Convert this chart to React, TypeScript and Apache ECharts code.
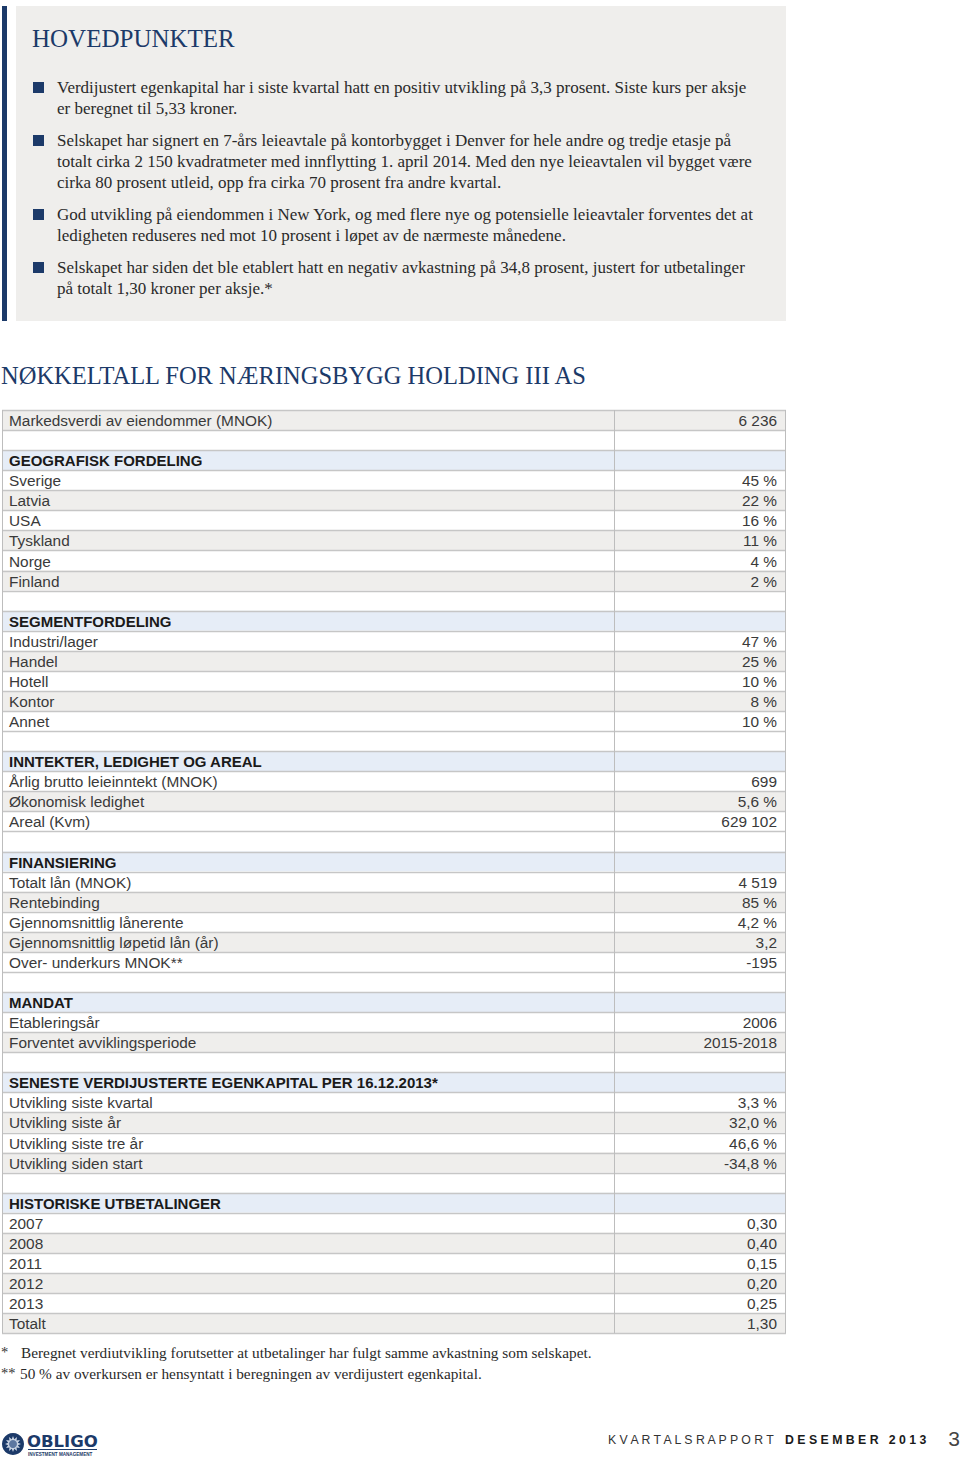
import React, { useEffect, useRef } from "react";
import * as echarts from "echarts";

const pageTitle = "HOVEDPUNKTER";
const highlights: string[][] = [
  [
    "Verdijustert egenkapital har i siste kvartal hatt en positiv utvikling på 3,3 prosent. Siste kurs per aksje",
    "er beregnet til 5,33 kroner.",
  ],
  [
    "Selskapet har signert en 7-års leieavtale på kontorbygget i Denver for hele andre og tredje etasje på",
    "totalt cirka 2 150 kvadratmeter med innflytting 1. april 2014. Med den nye leieavtalen vil bygget være",
    "cirka 80 prosent utleid, opp fra cirka 70 prosent fra andre kvartal.",
  ],
  [
    "God utvikling på eiendommen i New York, og med flere nye og potensielle leieavtaler forventes det at",
    "ledigheten reduseres ned mot 10 prosent i løpet av de nærmeste månedene.",
  ],
  [
    "Selskapet har siden det ble etablert hatt en negativ avkastning på 34,8 prosent, justert for utbetalinger",
    "på totalt 1,30 kroner per aksje.*",
  ],
];

const tableTitle = "NØKKELTALL FOR NÆRINGSBYGG HOLDING III AS";
const marketLabel = "Markedsverdi av eiendommer (MNOK)";
const marketValue = "6 236";

const sectionTitles = [
  "GEOGRAFISK FORDELING",
  "SEGMENTFORDELING",
  "INNTEKTER, LEDIGHET OG AREAL",
  "FINANSIERING",
  "MANDAT",
  "SENESTE VERDIJUSTERTE EGENKAPITAL PER 16.12.2013*",
  "HISTORISKE UTBETALINGER",
];
const geoLabels = ["Sverige", "Latvia", "USA", "Tyskland", "Norge", "Finland"];
const geoValues = ["45 %", "22 %", "16 %", "11 %", "4 %", "2 %"];
const segLabels = ["Industri/lager", "Handel", "Hotell", "Kontor", "Annet"];
const segValues = ["47 %", "25 %", "10 %", "8 %", "10 %"];
const incomeLabels = ["Årlig brutto leieinntekt (MNOK)", "Økonomisk ledighet", "Areal (Kvm)"];
const incomeValues = ["699", "5,6 %", "629 102"];
const finLabels = [
  "Totalt lån (MNOK)",
  "Rentebinding",
  "Gjennomsnittlig lånerente",
  "Gjennomsnittlig løpetid lån (år)",
  "Over- underkurs MNOK**",
];
const finValues = ["4 519", "85 %", "4,2 %", "3,2", "-195"];
const mandatLabels = ["Etableringsår", "Forventet avviklingsperiode"];
const mandatValues = ["2006", "2015-2018"];
const equityLabels = [
  "Utvikling siste kvartal",
  "Utvikling siste år",
  "Utvikling siste tre år",
  "Utvikling siden start",
];
const equityValues = ["3,3 %", "32,0 %", "46,6 %", "-34,8 %"];
const payoutLabels = ["2007", "2008", "2011", "2012", "2013", "Totalt"];
const payoutValues = ["0,30", "0,40", "0,15", "0,20", "0,25", "1,30"];

const footnoteMarks = ["*", "**"];
const footnotes = [
  "Beregnet verdiutvikling forutsetter at utbetalinger har fulgt samme avkastning som selskapet.",
  "50 % av overkursen er hensyntatt i beregningen av verdijustert egenkapital.",
];
const footerLeft = "K V A R T A L S R A P P O R T";
const footerRight = "D E S E M B E R   2 0 1 3";
const pageNumber = "3";

const SERIF = "'Liberation Serif', 'DejaVu Serif', serif";
const SANS = "'Liberation Sans', Arial, sans-serif";
const NAVY = "#1c3a69";
const GRAY = "#efeeec";
const BLUE = "#e6edf7";
const BORDER = "#c6c6c6";

function txt(x: number, y: number, text: string, o: any = {}) {
  const align = o.align || "left";
  const va = o.va || "middle";
  return {
    type: "text",
    x,
    y,
    z: 10,
    style: {
      text,
      fontSize: o.size || 15,
      fontFamily: o.family || SANS,
      fontWeight: o.weight || "normal",
      fill: o.color || "#333",
      textAlign: align,
      align,
      textVerticalAlign: va,
      verticalAlign: va,
    },
  };
}

export default function App() {
  const ref = useRef<HTMLDivElement>(null);
  useEffect(() => {
    if (!ref.current) return;
    const chart = echarts.init(ref.current, null, { renderer: "svg" });
    const els: any[] = [];

    // Highlights box
    els.push({ type: "rect", shape: { x: 16, y: 6, width: 770, height: 315 }, style: { fill: GRAY } });
    els.push({ type: "rect", shape: { x: 2, y: 6, width: 5, height: 315 }, style: { fill: NAVY } });
    els.push(txt(32, 38, pageTitle, { size: 25, family: SERIF, color: NAVY }));
    let y = 87;
    highlights.forEach((lines) => {
      els.push({ type: "rect", shape: { x: 33, y: y - 5, width: 11, height: 11 }, style: { fill: NAVY } });
      lines.forEach((l, i) => {
        els.push(txt(57, y + i * 21, l, { size: 17, family: SERIF, color: "#2a2a2a" }));
      });
      y += (lines.length - 1) * 21 + 32;
    });

    // Table title
    els.push(txt(1, 375, tableTitle, { size: 24.5, family: SERIF, color: NAVY }));

    // Table rows
    type Row = { kind: "plain" | "header" | "blank"; label?: string; value?: string; fill: string };
    const rows: Row[] = [];
    rows.push({ kind: "plain", label: marketLabel, value: marketValue, fill: GRAY });
    rows.push({ kind: "blank", fill: "#fff" });
    const sections: [string[], string[]][] = [
      [geoLabels, geoValues],
      [segLabels, segValues],
      [incomeLabels, incomeValues],
      [finLabels, finValues],
      [mandatLabels, mandatValues],
      [equityLabels, equityValues],
      [payoutLabels, payoutValues],
    ];
    sections.forEach(([labels, values], si) => {
      rows.push({ kind: "header", label: sectionTitles[si], fill: BLUE });
      labels.forEach((lab, i) =>
        rows.push({ kind: "plain", label: lab, value: values[i], fill: i % 2 === 1 ? GRAY : "#fff" })
      );
      if (si < sections.length - 1) rows.push({ kind: "blank", fill: "#fff" });
    });

    const top = 410;
    const rh = 20.07;
    const left = 2;
    const right = 786;
    const mid = 614;
    rows.forEach((r, i) => {
      const ry = top + i * rh;
      els.push({ type: "rect", shape: { x: left, y: ry, width: right - left, height: rh }, style: { fill: r.fill } });
      if (r.label) {
        els.push(
          txt(9, ry + rh / 2 + 0.5, r.label, {
            size: r.kind === "header" ? 15 : 15.4,
            weight: r.kind === "header" ? "bold" : "normal",
            color: r.kind === "header" ? "#1a1a1a" : "#3a3a3a",
          })
        );
      }
      if (r.value) {
        els.push(txt(777, ry + rh / 2 + 0.5, r.value, { size: 15.4, align: "right", color: "#3a3a3a" }));
      }
    });
    const bottom = top + rows.length * rh;
    for (let i = 0; i <= rows.length; i++) {
      const ly = Math.round(top + i * rh) + 0.5;
      els.push({
        type: "line",
        z: 5,
        shape: { x1: left, y1: ly, x2: right, y2: ly },
        style: { stroke: BORDER, lineWidth: 1.3 },
      });
    }
    [left + 0.5, mid + 0.5, right - 0.5].forEach((lx) =>
      els.push({
        type: "line",
        z: 5,
        shape: { x1: lx, y1: top, x2: lx, y2: bottom },
        style: { stroke: "#bdbdbd", lineWidth: 1 },
      })
    );

    // Footnotes
    footnotes.forEach((f, i) => {
      const fy = 1352 + i * 21;
      els.push(txt(1, fy, footnoteMarks[i], { size: 14.5, family: SERIF, color: "#333" }));
      els.push(txt(i === 0 ? 21 : 20, fy, f, { size: 15.3, family: SERIF, color: "#2a2a2a" }));
    });

    // Footer logo
    els.push({ type: "circle", shape: { cx: 13, cy: 1444, r: 11 }, style: { fill: NAVY } });
    const star: number[][] = [];
    for (let k = 0; k < 24; k++) {
      const a = (k * Math.PI) / 12;
      const rr = k % 2 === 0 ? 8 : 5;
      star.push([13 + rr * Math.cos(a), 1444 + rr * Math.sin(a)]);
    }
    els.push({ type: "polygon", shape: { points: star }, style: { fill: "#c9d3e2" } });
    els.push({ type: "circle", shape: { cx: 13, cy: 1444, r: 4 }, style: { fill: "#5d77a0" } });
    els.push(txt(27, 1441, "OBLIGO", { size: 16.5, weight: "bold", color: NAVY, family: "'DejaVu Sans', Arial, sans-serif" }));
    els.push({ type: "line", shape: { x1: 28, y1: 1449.5, x2: 97, y2: 1449.5 }, style: { stroke: NAVY, lineWidth: 1 } });
    els.push(txt(28, 1454, "INVESTMENT MANAGEMENT", { size: 4.6, weight: "bold", color: NAVY }));

    // Footer text
    els.push(txt(608, 1440, footerLeft, { size: 12.3, color: "#333" }));
    els.push(txt(785, 1440, footerRight, { size: 12.3, weight: "bold", color: "#1a1a1a" }));
    els.push(txt(960, 1438, pageNumber, { size: 21, align: "right", color: "#444" }));

    chart.setOption({
      animation: false,
      backgroundColor: "#fff",
      graphic: { elements: els },
    });
    return () => chart.dispose();
  }, []);
  return (
    <div
      ref={ref}
      style={{ position: "absolute", left: 0, top: 0, width: 960, height: 1462, background: "#fff" }}
    />
  );
}
